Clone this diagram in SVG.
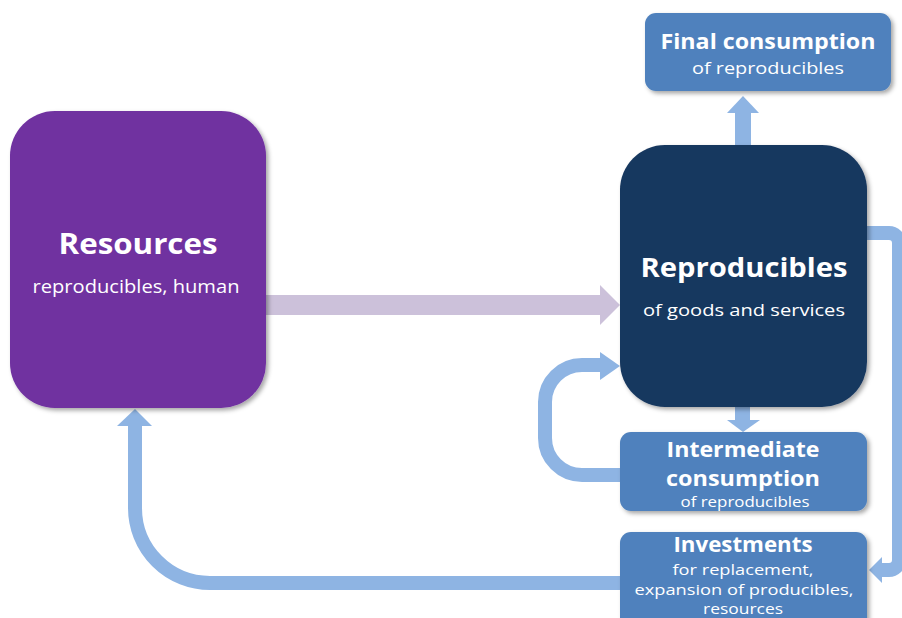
<svg xmlns="http://www.w3.org/2000/svg" width="902" height="618" viewBox="0 0 902 618">
<defs>
<filter id="sh" x="-10%" y="-10%" width="125%" height="125%">
<feDropShadow dx="2.5" dy="2.5" stdDeviation="2" flood-color="#000" flood-opacity="0.35"/>
</filter>
<style>
.t{font-family:"Open Sans","Liberation Sans",sans-serif;fill:#fff;text-anchor:middle}
.b{font-weight:bold}
.s{font-weight:normal}
.conn{fill:none;stroke:#8EB4E3;stroke-width:14}
.ah{fill:#8EB4E3}
</style>
</defs>
<rect width="902" height="618" fill="#fff"/>
<g id="connectors">
<rect x="266" y="295" width="335" height="20" fill="#CCC1DA"/>
<polygon points="600,285 620,305 600,325" fill="#CCC1DA"/>
<rect class="ah" x="735" y="112" width="16" height="34"/>
<polygon class="ah" points="727,113 743,96 759,113"/>
<rect class="ah" x="735" y="406" width="15" height="15"/>
<polygon class="ah" points="727,420 743,432 760,420"/>
<path class="conn" d="M621 475 H582 A37 37 0 0 1 545 438 V402 A37 37 0 0 1 582 365 H602"/>
<polygon class="ah" points="600,352 620,366 600,380"/>
<path class="conn" d="M621 583 H210 A75 75 0 0 1 135 508 V425"/>
<polygon class="ah" points="117,426 135,409 152,426"/>
<path class="conn" d="M866 233 H889 A10 10 0 0 1 899 243 V560 A10 10 0 0 1 889 570 H880"/>
<polygon class="ah" points="882,557 869,570 882,583"/>
</g>
<g id="resources">
<rect x="10" y="111" width="256" height="297" rx="45" fill="#7030A0" filter="url(#sh)"/>
<text class="t b" x="138" y="254" font-size="29" textLength="159" lengthAdjust="spacingAndGlyphs">Resources</text>
<text class="t s" x="136" y="293" font-size="18" textLength="207" lengthAdjust="spacingAndGlyphs">reproducibles, human</text>
</g>
<g id="reproducibles">
<rect x="620" y="145" width="247" height="262" rx="45" fill="#17375E" filter="url(#sh)"/>
<text class="t b" x="744" y="277" font-size="27" textLength="207" lengthAdjust="spacingAndGlyphs">Reproducibles</text>
<text class="t s" x="744" y="316" font-size="17" textLength="202" lengthAdjust="spacingAndGlyphs">of goods and services</text>
</g>
<g id="final">
<rect x="645" y="13" width="246" height="78" rx="11" fill="#4F81BD" filter="url(#sh)"/>
<text class="t b" x="768" y="49" font-size="22" textLength="215" lengthAdjust="spacingAndGlyphs">Final consumption</text>
<text class="t s" x="768" y="74" font-size="17" textLength="152" lengthAdjust="spacingAndGlyphs">of reproducibles</text>
</g>
<g id="intermediate">
<rect x="620" y="432" width="247" height="79" rx="11" fill="#4F81BD" filter="url(#sh)"/>
<text class="t b" x="743" y="457" font-size="22" textLength="153" lengthAdjust="spacingAndGlyphs">Intermediate</text>
<text class="t b" x="743" y="486" font-size="22" textLength="154" lengthAdjust="spacingAndGlyphs">consumption</text>
<text class="t s" x="745" y="507" font-size="15" textLength="129" lengthAdjust="spacingAndGlyphs">of reproducibles</text>
</g>
<g id="investments">
<rect x="620" y="532" width="247" height="100" rx="11" fill="#4F81BD" filter="url(#sh)"/>
<text class="t b" x="743" y="552" font-size="21" textLength="139" lengthAdjust="spacingAndGlyphs">Investments</text>
<text class="t s" x="743" y="575" font-size="14" textLength="141" lengthAdjust="spacingAndGlyphs">for replacement,</text>
<text class="t s" x="744" y="595" font-size="14" textLength="219" lengthAdjust="spacingAndGlyphs">expansion of producibles,</text>
<text class="t s" x="743" y="614" font-size="14" textLength="80" lengthAdjust="spacingAndGlyphs">resources</text>
</g>
</svg>
